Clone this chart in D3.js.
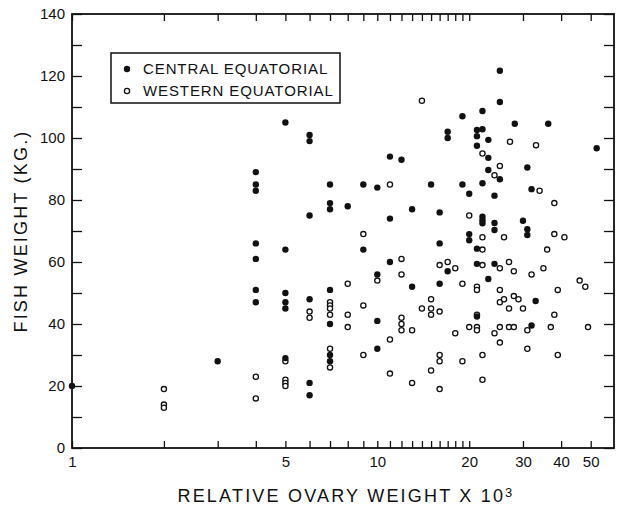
<!DOCTYPE html>
<html>
<head>
<meta charset="utf-8">
<script src="https://cdn.jsdelivr.net/npm/d3@7"></script>
<style>
  html, body { margin: 0; padding: 0; background: #fff; }
  svg { display: block; }
  text { font-family: "Liberation Sans", Arial, sans-serif; fill: #111; }
</style>
</head>
<body>
<script>
// ---- data ----
const centralPoints = [
  [1,20],[3,28],
  [4,89],[4,85],[4,83],[4,66],[4,61],[4,51],[4,47],
  [5,105],[5,64],[5,50],[5,47],[5,45],[5,29],
  [6,101],[6,99],[6,75],[6,48],[6,21],[6,17],
  [7,85],[7,79],[7,77],[7,51],[7,40],[7,30],[7,28],
  [8,78],[9,85],[9,64],
  [10,84],[10,56],[10,41],[10,32],
  [11,94],[11,74],[11,60],
  [12,93],[13,77],[13,52],[15,85],
  [16,76],[16,66],[16,53],
  [17,102],[17,100],[17,57],
  [19,107],[19,85],
  [20,82],[20,69],[20,67],
  [21.2,102.6],[21.2,100.6],[21.2,97.5],[21.2,64.3],[21.2,59.4],[21.2,42.4],
  [22.1,108.7],[22.1,102.8],[22.1,85.4],[22.1,74.6],[22.1,73.5],[22.1,72.5],
  [23.1,99.4],[23.1,93.6],[23.1,89.7],[23.1,54.5],
  [24.2,81.4],[24.2,72.6],[24.2,70.3],[24.2,59.4],
  [25.2,121.7],[25.2,111.6],[25.2,86.7],
  [28.2,104.6],[30,73.3],
  [31,90.5],[31,70.6],[31,68.7],
  [32,83.5],[32,39.5],[33,47.4],
  [36.3,104.6],[52.3,96.7]
];
const westernPoints = [
  [2,19],[2,14],[2,13],
  [4,23],[4,16],
  [5,28],[5,22],[5,21],[5,20],
  [6,44],[6,42],
  [7,47],[7,46],[7,45],[7,43],[7,32],[7,26],
  [8,53],[8,43],[8,39],
  [9,69],[9,46],[9,30],
  [10,54],
  [11,85],[11,35],[11,24],
  [12,61],[12,56],[12,42],[12,40],[12,38],
  [13,38],[13,21],
  [14,112],[14,45],
  [15,48],[15,45],[15,43],[15,25],
  [16,59],[16,44],[16,30],[16,28],[16,19],
  [17,60],[18,58],[18,37],[19,53],[19,28],
  [20,75],[20,39],
  [21.2,52],[21.2,51],[21.2,43],[21.2,39],[21.2,38],
  [22.1,95],[22.1,68],[22.1,64],[22.1,59],[22.1,30],[22.1,22],
  [24.2,88],[24.2,37],
  [25.2,91],[25.2,58],[25.2,51],[25.2,47],[25.2,39],[25.2,34],
  [26,68],[26,48],
  [27.2,98.8],[27,60],[27,45],[27,39],
  [28,57],[28,49],[28,39],[29,48],[30,45],
  [31,38],[31,32],[32,56],[33.1,97.7],[34,83],[35,58],[36,64],[37,39],
  [38,79],[38,69],[38,43],[39,51],[39,30],[41,68],[46,54],[48,52],[49,39]
];
const xTickValues = [1,2,3,4,5,6,7,8,9,10,11,12,13,14,15,16,17,18,19,20,30,40,50];
const xTickLabels = [1,5,10,20,30,40,50];
const yTickValues = [0,10,20,30,40,50,60,70,80,90,100,110,120,130,140];
const yTickLabels = [0,20,40,60,80,100,120,140];
const legendLabels = ["CENTRAL EQUATORIAL","WESTERN EQUATORIAL"];

// ---- layout ----
const W = 617, H = 506;
const L = 72, R = 614, T = 14, B = 448;

const svg = d3.select("body").append("svg").attr("width", W).attr("height", H);

const x = d3.scaleLog().domain([1, 59.6]).range([L, R]);
const y = d3.scaleLinear().domain([0, 140]).range([B, T]);

function styleAxis(g) {
  g.select(".domain").remove();
  g.selectAll(".tick line").attr("stroke", "#111").attr("stroke-width", 1.3);
  g.selectAll(".tick text").style("font-size", "15px").attr("fill", "#111");
}

svg.append("g").attr("transform", `translate(0,${B})`)
  .call(d3.axisBottom(x).tickValues(xTickValues).tickSize(-7).tickPadding(8)
    .tickFormat(d => xTickLabels.includes(d) ? String(d) : ""))
  .call(styleAxis);
svg.append("g").attr("transform", `translate(0,${T})`)
  .call(d3.axisTop(x).tickValues(xTickValues).tickSize(-7).tickFormat(() => ""))
  .call(styleAxis);
svg.append("g").attr("transform", `translate(${L},0)`)
  .call(d3.axisLeft(y).tickValues(yTickValues).tickSize(-10).tickPadding(7)
    .tickFormat(d => yTickLabels.includes(d) ? String(d) : ""))
  .call(styleAxis);
svg.append("g").attr("transform", `translate(${R},0)`)
  .call(d3.axisRight(y).tickValues(yTickValues).tickSize(-10).tickFormat(() => ""))
  .call(styleAxis);

// frame
svg.append("rect").attr("x", L).attr("y", T).attr("width", R - L).attr("height", B - T)
  .attr("fill", "none").attr("stroke", "#111").attr("stroke-width", 1.8);

// points
svg.append("g").selectAll("circle").data(westernPoints).join("circle")
  .attr("cx", d => x(d[0])).attr("cy", d => y(d[1])).attr("r", 2.6)
  .attr("fill", "#fff").attr("stroke", "#111").attr("stroke-width", 1.3);
svg.append("g").selectAll("circle").data(centralPoints).join("circle")
  .attr("cx", d => x(d[0])).attr("cy", d => y(d[1])).attr("r", 3.2)
  .attr("fill", "#111");

// legend
const lg = svg.append("g");
lg.append("rect").attr("x", 111).attr("y", 53).attr("width", 229).attr("height", 50)
  .attr("fill", "#fff").attr("stroke", "#111").attr("stroke-width", 1.5);
lg.append("circle").attr("cx", 127).attr("cy", 69).attr("r", 3.2).attr("fill", "#111");
lg.append("circle").attr("cx", 127).attr("cy", 91).attr("r", 2.6).attr("fill", "#fff")
  .attr("stroke", "#111").attr("stroke-width", 1.3);
lg.selectAll("text").data(legendLabels).join("text")
  .attr("x", 143).attr("y", (d, i) => 69 + i * 22).attr("dy", "0.36em")
  .style("font-size", "15px").style("letter-spacing", "0.9px").text(d => d);

// axis titles
const xt = svg.append("text").attr("x", 346).attr("y", 502).attr("text-anchor", "middle")
  .style("font-size", "18px").style("letter-spacing", "2.2px");
xt.append("tspan").text("RELATIVE OVARY WEIGHT X 10");
xt.append("tspan").attr("dy", "-0.35em").style("font-size", "13px").text("3");

svg.append("text").attr("transform", "translate(27,231) rotate(-90)")
  .attr("text-anchor", "middle").style("font-size", "18px").style("letter-spacing", "2.2px")
  .text("FISH WEIGHT (KG.)");
</script>
</body>
</html>
